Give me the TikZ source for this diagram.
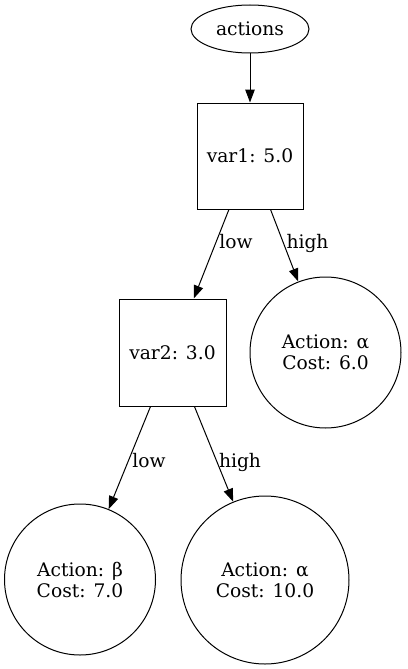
\documentclass[tikz,border=0pt]{standalone}
\usepackage{fontspec}
\setmainfont{DejaVu Serif}
\usetikzlibrary{arrows.meta,shapes.geometric}
\begin{document}
\begin{tikzpicture}[x=1pt,y=-1pt,
  every node/.style={font=\fontsize{18.67}{21}\selectfont, inner sep=0pt},
  line/.style={draw, line width=1pt},
  ell/.style={line, ellipse, minimum width=118pt, minimum height=48pt},
  boxn/.style={line, rectangle, minimum width=106pt, minimum height=106pt},
  leaf/.style={line, circle, align=center},
  edge/.style={line width=1pt, -{Triangle[length=13pt,width=9.5pt]}},
  lbl/.style={anchor=base}
]
\useasboundingbox (0,0) rectangle (407,669);
\node[ell] (act) at (250,29) {actions};
\node[boxn] (v1) at (250,156) {var1: 5.0};
\node[boxn, minimum width=107pt, minimum height=107pt] (v2) at (172.5,352.5) {var2: 3.0};
\node[leaf, minimum size=151pt] (a6) at (325.5,352.5) {Action: α\\Cost: 6.0};
\node[leaf, minimum size=151pt] (b7) at (80,579.5) {Action: β\\Cost: 7.0};
\node[leaf, minimum size=168pt] (a10) at (265,580) {Action: α\\Cost: 10.0};
\draw[edge] (act) -- (v1);
\draw[edge] (v1) -- (v2);
\draw[edge] (v1) -- (a6);
\draw[edge] (v2) -- (b7);
\draw[edge] (v2) -- (a10);
\node[lbl] (l1) at (236,248) {low};
\node[lbl] (h1) at (307.5,248) {high};
\node[lbl] (l2) at (149,467) {low};
\node[lbl] (h2) at (240,467) {high};
\end{tikzpicture}
\end{document}
